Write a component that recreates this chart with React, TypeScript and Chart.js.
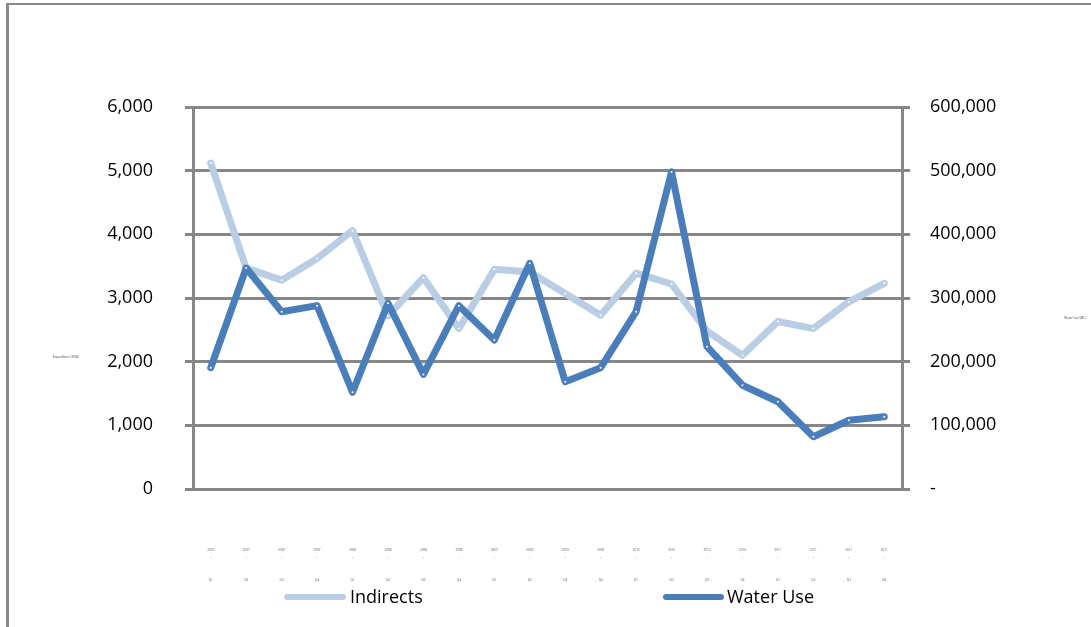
import React, { useEffect, useRef } from "react";
import { Chart, registerables } from "chart.js";

Chart.register(...registerables);

const years = ["2007", "2007", "2007", "2007", "2008", "2008", "2008", "2008", "2009", "2009", "2009", "2009", "2010", "2010", "2010", "2010", "2011", "2011", "2011", "2011"];
const quarters = ["Q1", "Q2", "Q3", "Q4", "Q1", "Q2", "Q3", "Q4", "Q1", "Q2", "Q3", "Q4", "Q1", "Q2", "Q3", "Q4", "Q1", "Q2", "Q3", "Q4"];
const indirects = [5120, 3470, 3280, 3620, 4060, 2720, 3320, 2520, 3450, 3410, 3070, 2730, 3390, 3220, 2480, 2100, 2630, 2520, 2940, 3230];
const waterUse = [190500, 347000, 278500, 288000, 151900, 291700, 180000, 288000, 234000, 354500, 168500, 190500, 278500, 498000, 223500, 163000, 137000, 82000, 108000, 113500];
const leftTitle = "Expenditure ($000)";
const rightTitle = "Water Use (ML)";
const seriesNames = ["Indirects", "Water Use"];

const GRID = "#878787";
const LIGHT = "#B9CDE5";
const DARK = "#4A7EBB";

const fmt = (v: number) => v.toLocaleString("en-US");

const extrasPlugin = {
  id: "extras",
  afterDraw(chart: any) {
    const ctx = chart.ctx;
    ctx.save();
    ctx.fillStyle = "#404040";
    ctx.font = "3px 'Open Sans'";
    ctx.textAlign = "center";
    ctx.textBaseline = "middle";
    ctx.fillText(leftTitle, 66, 357);
    ctx.fillText(rightTitle, 1075, 318);
    const items = [
      { x1: 287, x2: 343, tx: 350 },
      { x1: 666, x2: 721, tx: 727 },
    ];
    chart.data.datasets.forEach((ds: any, i: number) => {
      const it = items[i];
      ctx.strokeStyle = ds.borderColor;
      ctx.lineWidth = 6;
      ctx.lineCap = "round";
      ctx.beginPath();
      ctx.moveTo(it.x1, 597);
      ctx.lineTo(it.x2, 597);
      ctx.stroke();
      ctx.fillStyle = "#000";
      ctx.font = "18px 'Open Sans'";
      ctx.textAlign = "left";
      ctx.textBaseline = "middle";
      ctx.fillText(ds.label, it.tx, 598);
    });
    ctx.restore();
  },
};

export default function App() {
  const ref = useRef<HTMLCanvasElement | null>(null);

  useEffect(() => {
    if (!ref.current) return;
    const labels = years.map((y, i) => [y, "-", "", "", quarters[i]]);
    const chart = new Chart(ref.current, {
      type: "line",
      data: {
        labels,
        datasets: [
          {
            label: seriesNames[0],
            data: indirects,
            yAxisID: "y",
            borderColor: LIGHT,
            backgroundColor: LIGHT,
            borderWidth: 7,
            borderJoinStyle: "round",
            borderCapStyle: "round",
            pointRadius: 1,
            pointBackgroundColor: "#ffffff",
            pointBorderWidth: 0,
            tension: 0,
            order: 2,
          },
          {
            label: seriesNames[1],
            data: waterUse,
            yAxisID: "y1",
            borderColor: DARK,
            backgroundColor: DARK,
            borderWidth: 7,
            borderJoinStyle: "round",
            borderCapStyle: "round",
            pointRadius: 1,
            pointBackgroundColor: "#ffffff",
            pointBorderWidth: 0,
            tension: 0,
            order: 1,
          },
        ],
      },
      options: {
        animation: false,
        responsive: false,
        maintainAspectRatio: false,
        layout: { padding: { top: 107, left: 0, right: 0, bottom: 0 } },
        plugins: {
          legend: { display: false },
          tooltip: { enabled: false },
        },
        scales: {
          x: {
            type: "category",
            offset: true,
            grid: { display: false, drawTicks: false },
            border: { display: false },
            ticks: {
              autoSkip: false,
              maxRotation: 0,
              minRotation: 0,
              padding: 57,
              color: "#595959",
              font: { size: 3, family: "'Open Sans'", lineHeight: "7.5px" } as any,
            },
            afterFit: (s: any) => {
              s.height = 627 - 489;
            },
          },
          y: {
            position: "left",
            min: 0,
            max: 6000,
            ticks: {
              stepSize: 1000,
              padding: 32,
              color: "#000",
              font: { size: 18, family: "'Open Sans'" },
              callback: (v: any) => fmt(Number(v)),
            },
            grid: { color: GRID, lineWidth: 3, tickLength: 8, drawOnChartArea: true },
            border: { display: true, color: GRID, width: 3 },
            afterFit: (s: any) => {
              s.width = 193;
            },
          },
          y1: {
            position: "right",
            min: 0,
            max: 600000,
            ticks: {
              stepSize: 100000,
              padding: 20,
              color: "#000",
              font: { size: 18, family: "'Open Sans'" },
              callback: (v: any) => (Number(v) === 0 ? "-" : fmt(Number(v))),
            },
            grid: { color: GRID, lineWidth: 3, tickLength: 8, drawOnChartArea: false },
            border: { display: true, color: GRID, width: 3 },
            afterFit: (s: any) => {
              s.width = 1091 - 902;
            },
          },
        },
      },
      plugins: [extrasPlugin],
    });
    return () => chart.destroy();
  }, []);

  return (
    <div style={{ position: "absolute", left: 0, top: 0, width: 1091, height: 627, overflow: "hidden", background: "#fff" }}>
      <div
        style={{
          position: "absolute",
          left: 6,
          top: 3,
          width: 1200,
          height: 700,
          borderTop: "2px solid #8a8a8a",
          borderLeft: "3px solid #8a8a8a",
        }}
      />
      <canvas ref={ref} width={1091} height={627} style={{ position: "absolute", left: 0, top: 0 }} />
    </div>
  );
}
